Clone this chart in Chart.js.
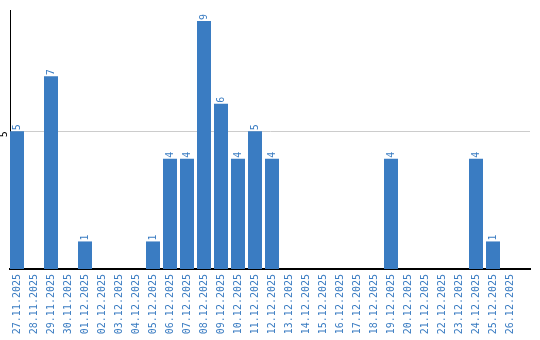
<!DOCTYPE html>
<html>
<head>
<meta charset="utf-8">
<script src="https://cdn.jsdelivr.net/npm/chart.js@4/dist/chart.umd.min.js"></script>
<style>
  html, body { margin: 0; padding: 0; background: #fff; }
</style>
</head>
<body>
<canvas id="chart" width="540" height="340"></canvas>
<script>
// days shown on the x axis
const days = [
    '27.11.2025', '28.11.2025', '29.11.2025', '30.11.2025', '01.12.2025',
    '02.12.2025', '03.12.2025', '04.12.2025', '05.12.2025', '06.12.2025',
    '07.12.2025', '08.12.2025', '09.12.2025', '10.12.2025', '11.12.2025',
    '12.12.2025', '13.12.2025', '14.12.2025', '15.12.2025', '16.12.2025',
    '17.12.2025', '18.12.2025', '19.12.2025', '20.12.2025', '21.12.2025',
    '22.12.2025', '23.12.2025', '24.12.2025', '25.12.2025', '26.12.2025'
];
// count per day
const counts = [5, 0, 7, 0, 1, 0, 0, 0, 1, 4, 4, 9, 6, 4, 5, 4, 0, 0, 0, 0, 0, 0, 4, 0, 0, 0, 0, 4, 1, 0];
// the only y tick shown
const yTicks = [5];

const BLUE = '#3a7cc2';
const FONT = '"DejaVu Sans Mono", monospace';

// value labels above bars + rotated y tick label
const labelsPlugin = {
    id: 'labels',
    afterDatasetsDraw(chart) {
        const ctx = chart.ctx;
        const meta = chart.getDatasetMeta(0);
        ctx.save();
        ctx.font = '10px ' + FONT;
        ctx.fillStyle = BLUE;
        ctx.textAlign = 'left';
        ctx.textBaseline = 'middle';
        meta.data.forEach((bar, i) => {
            if (!counts[i]) return;
            ctx.save();
            ctx.translate(bar.x, bar.y - 1);
            ctx.rotate(-Math.PI / 2);
            ctx.fillText(String(counts[i]), 0, 0);
            ctx.restore();
        });
        // y tick text
        ctx.fillStyle = '#000';
        ctx.textAlign = 'center';
        yTicks.forEach(v => {
            const y = chart.scales.y.getPixelForValue(v);
            ctx.save();
            ctx.translate(4, y + 3);
            ctx.rotate(-Math.PI / 2);
            ctx.fillText(String(v), 0, 0);
            ctx.restore();
        });
        ctx.restore();
    }
};

new Chart(document.getElementById('chart'), {
    type: 'bar',
    data: {
        datasets: [{
            data: counts.map((v, i) => ({ x: i, y: v })),
            backgroundColor: BLUE,
            barPercentage: 1,
            categoryPercentage: 14 / 17
        }]
    },
    options: {
        responsive: false,
        animation: false,
        layout: { padding: { top: 10, right: 10, left: 0, bottom: 0 } },
        plugins: { legend: { display: false }, tooltip: { enabled: false } },
        scales: {
            x: {
                type: 'linear',
                offset: false,
                min: -7 / 17,
                max: 29 + 20 / 17,
                afterBuildTicks: axis => { axis.ticks = days.map((_, i) => ({ value: i })); },
                afterFit: axis => { axis.height = 71; },
                grid: { display: false, drawTicks: false },
                border: { display: true, color: '#000', width: 2 },
                ticks: {
                    autoSkip: false,
                    minRotation: 90,
                    maxRotation: 90,
                    padding: 5,
                    color: BLUE,
                    font: { family: FONT, size: 10 },
                    callback: v => days[v]
                }
            },
            y: {
                min: 0,
                max: 9.4,
                afterBuildTicks: axis => { axis.ticks = yTicks.map(v => ({ value: v })); },
                afterFit: axis => { axis.width = 10; },
                grid: { color: '#cccccc', drawTicks: false },
                border: { display: true, color: '#000', width: 1 },
                ticks: { display: false }
            }
        }
    },
    plugins: [labelsPlugin]
});
</script>
</body>
</html>
